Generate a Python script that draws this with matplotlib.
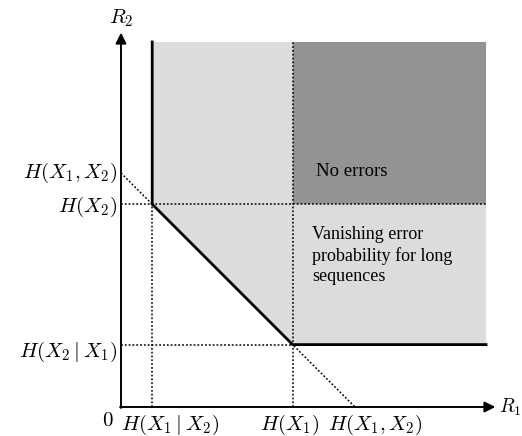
import matplotlib.pyplot as plt
from matplotlib.patches import Polygon, Rectangle

plt.rcParams['mathtext.fontset'] = 'cm'
plt.rcParams['font.family'] = ['Liberation Serif', 'DejaVu Serif']

# entropy values (arbitrary units)
H1_given_2 = 1.0
H2_given_1 = 2.0
H1 = 5.5
H2 = 6.5
H12 = 7.5
r_max = 11.7      # extent of the shaded region
axis_end = 12.0   # arrow tips

x_labels = [r'$H(X_1\mid X_2)$', r'$H(X_1)$', r'$H(X_1,X_2)$']
y_labels = [r'$H(X_1,X_2)$', r'$H(X_2)$', r'$H(X_2\mid X_1)$']

light = '#dcdcdc'
dark = '#939393'

fig = plt.figure(figsize=(5.22, 4.36), dpi=100)
ax = fig.add_axes([0, 0, 1, 1])
scale = 31.2
ax.set_xlim(-121 / scale, (522 - 121) / scale)
ax.set_ylim(-(436 - 407) / scale, 407 / scale)
ax.axis('off')

# achievable region (light) and no-error region (dark)
region = Polygon([(H1_given_2, r_max), (r_max, r_max), (r_max, H2_given_1),
                  (H1, H2_given_1), (H1_given_2, H2)],
                 closed=True, facecolor=light, edgecolor='none', zorder=1)
ax.add_patch(region)
ax.add_patch(Rectangle((H1, H2), r_max - H1, r_max - H2,
                       facecolor=dark, edgecolor='none', zorder=2))

# dotted guide lines
dot = dict(color='black', linestyle=(0, (1.2, 1.3)), linewidth=1.1, zorder=3)
ax.plot([0, r_max], [H2, H2], **dot)
ax.plot([0, H1], [H2_given_1, H2_given_1], **dot)
ax.plot([H1_given_2, H1_given_2], [0, H2], **dot)
ax.plot([H1, H1], [0, r_max], **dot)
ax.plot([0, H12], [H12, 0], **dot)

# boundary of the rate region
ax.plot([H1_given_2, H1_given_2, H1, r_max],
        [r_max, H2, H2_given_1, H2_given_1],
        color='black', linewidth=2.0, solid_joinstyle='miter', zorder=4)

# axes with arrows
arrow = dict(arrowstyle='-|>', color='black', lw=1.4, mutation_scale=16,
             shrinkA=0, shrinkB=0)
ax.annotate('', xy=(axis_end, 0), xytext=(-0.03, 0), arrowprops=arrow, zorder=5)
ax.annotate('', xy=(0, axis_end), xytext=(0, -0.03), arrowprops=arrow, zorder=5)

fs = 15
ax.text(axis_end + 0.12, 0, r'$R_1$', fontsize=14, ha='left', va='center')
ax.text(0, axis_end + 0.1, r'$R_2$', fontsize=fs, ha='center', va='bottom')
ax.text(-0.25, -0.15, r'$0$', fontsize=fs, ha='right', va='top')

# x-axis labels
ax.text(0, -0.2, x_labels[0], fontsize=fs, ha='left', va='top')
ax.text(H1 - 0.1, -0.2, x_labels[1], fontsize=fs, ha='center', va='top')
ax.text(H12 - 0.85, -0.2, x_labels[2], fontsize=fs, ha='left', va='top')

# y-axis labels
ax.text(-0.12, H12, y_labels[0], fontsize=fs, ha='right', va='center')
ax.text(-0.12, H2 - 0.08, y_labels[1], fontsize=fs, ha='right', va='center')
ax.text(-0.12, H2_given_1 - 0.22, y_labels[2], fontsize=fs, ha='right', va='center')

ax.text(H1 + 0.75, H2 + 1.05, 'No errors', fontsize=13.5, ha='left', va='center')
ax.text(H1 + 0.62, 4.85, 'Vanishing error\nprobability for long\nsequences',
        fontsize=13, ha='left', va='center', linespacing=1.25)

plt.savefig('out.png', dpi=100)
